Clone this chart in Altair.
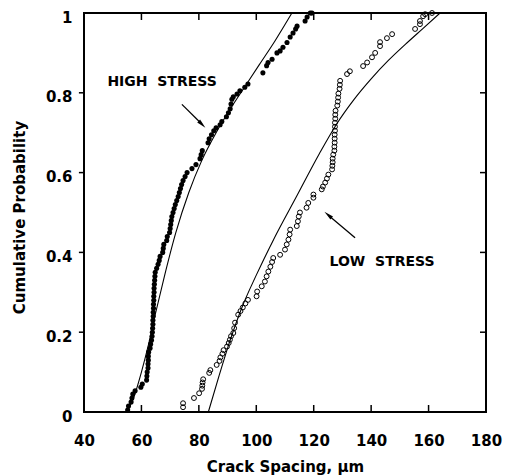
import altair as alt
import pandas as pd

# ---- data ----
high_x = [55.2, 55.5, 56.4, 56.7, 57.0, 57.8, 59.8, 60.3, 61.8, 61.9,
          62.0, 62.3, 62.3, 62.4, 62.4, 62.5, 63.0, 63.2, 63.5, 63.7,
          63.8, 63.9, 64.0, 64.0, 64.1, 64.1, 64.2, 64.2, 64.3, 64.3,
          64.4, 64.4, 64.5, 64.6, 64.7, 64.8, 65.3, 65.8, 66.2, 66.5,
          67.4, 67.6, 67.8, 68.8, 69.0, 69.8, 70.0, 70.2, 70.4, 70.6,
          71.0, 71.4, 71.8, 72.3, 72.8, 73.2, 73.6, 74.0, 74.5, 75.2,
          75.9, 77.6, 79.0, 80.4, 80.8, 81.2, 83.2, 83.6, 84.4, 85.2,
          86.0, 87.4, 88.0, 89.6, 90.3, 90.9, 91.2, 91.5, 92.0, 93.3,
          94.3, 96.0, 97.1, 102.3, 103.6, 104.1, 105.5, 107.2, 108.3, 109.3,
          110.7, 111.8, 112.8, 113.7, 114.2, 117.0, 117.7, 118.8, 119.4]
high_y = [0.005, 0.015, 0.025, 0.035, 0.045, 0.053, 0.062, 0.070, 0.080, 0.090,
          0.100, 0.110, 0.120, 0.130, 0.140, 0.150, 0.160, 0.170, 0.180, 0.190,
          0.200, 0.210, 0.220, 0.230, 0.240, 0.250, 0.260, 0.270, 0.280, 0.290,
          0.300, 0.310, 0.320, 0.330, 0.340, 0.350, 0.360, 0.370, 0.380, 0.390,
          0.400, 0.410, 0.420, 0.430, 0.440, 0.450, 0.460, 0.470, 0.480, 0.490,
          0.500, 0.510, 0.520, 0.530, 0.540, 0.550, 0.560, 0.570, 0.580, 0.590,
          0.600, 0.610, 0.620, 0.635, 0.645, 0.655, 0.675, 0.685, 0.695, 0.705,
          0.712, 0.720, 0.728, 0.740, 0.750, 0.760, 0.772, 0.784, 0.790, 0.797,
          0.805, 0.814, 0.822, 0.850, 0.868, 0.876, 0.884, 0.900, 0.905, 0.914,
          0.926, 0.940, 0.950, 0.960, 0.967, 0.980, 0.990, 1.000, 1.000]

low_x = [74.5, 74.5, 78.3, 80.1, 81.1, 81.2, 81.3, 81.5, 83.6, 84.0,
         86.2, 87.2, 87.5, 88.2, 88.6, 89.8, 90.4, 90.8, 91.2, 92.0,
         92.3, 92.6, 93.7, 94.5, 95.3, 96.2, 97.1, 100.1, 100.3, 101.9,
         103.0, 103.6, 104.2, 104.9, 105.5, 105.9, 108.3, 110.0, 110.6, 111.2,
         111.6, 111.8, 114.1, 114.5, 114.8, 115.2, 117.5, 118.1, 119.9, 119.9,
         122.8, 123.2, 124.0, 124.6, 125.1, 126.4, 126.5, 126.6, 126.6, 126.8,
         127.2, 127.2, 127.3, 127.3, 127.3, 127.4, 127.4, 127.4, 127.5, 127.5,
         127.6, 128.2, 128.4, 128.5, 128.6, 129.0, 129.1, 129.2, 131.6, 132.6,
         137.2, 138.6, 140.3, 141.4, 143.1, 143.1, 145.5, 147.3, 155.3, 157.0,
         157.0, 158.1, 158.8, 161.2]
low_y = [0.012, 0.022, 0.035, 0.047, 0.058, 0.066, 0.074, 0.082, 0.098, 0.105,
         0.118, 0.128, 0.137, 0.146, 0.155, 0.164, 0.173, 0.181, 0.190, 0.198,
         0.210, 0.224, 0.244, 0.253, 0.262, 0.272, 0.281, 0.290, 0.302, 0.315,
         0.327, 0.340, 0.352, 0.364, 0.376, 0.386, 0.394, 0.407, 0.420, 0.432,
         0.445, 0.457, 0.466, 0.478, 0.490, 0.500, 0.512, 0.524, 0.537, 0.545,
         0.558, 0.565, 0.575, 0.585, 0.595, 0.608, 0.617, 0.626, 0.635, 0.645,
         0.655, 0.665, 0.675, 0.685, 0.695, 0.705, 0.715, 0.725, 0.735, 0.745,
         0.755, 0.768, 0.778, 0.788, 0.798, 0.810, 0.820, 0.830, 0.847, 0.854,
         0.867, 0.876, 0.889, 0.900, 0.917, 0.927, 0.937, 0.947, 0.960, 0.972,
         0.980, 0.992, 0.997, 1.000]

high_fit_x = [55.0, 57.5, 60.0, 62.5, 65.0, 68.0, 72.0, 76.5, 81.0, 86.0, 91.0, 96.0, 101.0, 106.5, 112.4]
high_fit_y = [0.0, 0.04, 0.10, 0.17, 0.25, 0.34, 0.45, 0.55, 0.63, 0.70, 0.76, 0.815, 0.87, 0.93, 1.0]
low_fit_x = [83.3, 87.0, 91.0, 95.0, 100.0, 106.0, 114.0, 122.0, 128.0, 134.0, 140.0, 146.0, 152.0, 158.0, 164.0]
low_fit_y = [0.0, 0.09, 0.182, 0.262, 0.343, 0.432, 0.54, 0.648, 0.722, 0.783, 0.835, 0.881, 0.922, 0.961, 1.0]

x_labels = [40, 60, 80, 100, 120, 140, 160, 180]
y_labels = [0, 0.2, 0.4, 0.6, 0.8, 1]
x_ticks = [60, 80, 100, 120, 140, 160]
y_ticks = [0.2, 0.4, 0.6, 0.8]

note_text = ["HIGH\u00a0\u00a0STRESS", "LOW\u00a0\u00a0STRESS"]
note_x = [67.2, 143.8]
note_y = [0.827, 0.377]
arrow_tail_x = [74.1, 134.4]
arrow_tail_y = [0.771, 0.437]
arrow_head_x = [81.1, 125.0]
arrow_head_y = [0.721, 0.494]
arrow_angle = [135, 310]

# ---- styling ----
FONT = "DejaVu Sans"
XMIN, XMAX, YMIN, YMAX = 40, 180, 0, 1
xs = alt.Scale(domain=[XMIN, XMAX], nice=False, zero=False)
ys = alt.Scale(domain=[YMIN, YMAX], nice=False, zero=False)

xaxis = alt.Axis(values=x_labels, title="Crack Spacing, \u03bcm", ticks=False, domain=False,
                 grid=False, labelFont=FONT, labelFontWeight="bold", labelFontSize=15,
                 labelColor="black", labelPadding=21, labelFlush=False, labelOverlap=False,
                 titleFont=FONT, titleFontWeight="bold", titleFontSize=15, titleColor="black",
                 titleX=201, titleY=59, titleBaseline="alphabetic", titleAlign="center")
yaxis = alt.Axis(values=y_labels, title="Cumulative Probability", ticks=False, domain=False,
                 grid=False, labelFont=FONT, labelFontWeight="bold", labelFontSize=15,
                 labelColor="black", labelPadding=12, labelOffset=4, labelOverlap=False,
                 labelExpr="datum.value == 0 ? '0' : datum.value == 1 ? '1' : format(datum.value, '.1f')",
                 titleFont=FONT, titleFontWeight="bold", titleFontSize=15, titleColor="black",
                 titleX=-65, titleY=204, titleAngle=270, titleAlign="center", titleBaseline="middle")


def X(f):
    return alt.X(f, type="quantitative", scale=xs, axis=xaxis)


def Y(f):
    return alt.Y(f, type="quantitative", scale=ys, axis=yaxis)


high_df = pd.DataFrame({"x": high_x, "y": high_y})
low_df = pd.DataFrame({"x": low_x, "y": low_y})
hfit_df = pd.DataFrame({"x": high_fit_x, "y": high_fit_y})
lfit_df = pd.DataFrame({"x": low_fit_x, "y": low_fit_y})

TX = 7 / 398  # tick length in y units (about 7 px)
TXX = 6 * (XMAX - XMIN) / 402  # tick length in x units (about 6 px)
bottom_ticks = pd.DataFrame({"x": x_ticks, "y": [YMIN] * len(x_ticks), "y2": [YMIN + TX] * len(x_ticks)})
top_ticks = pd.DataFrame({"x": x_ticks, "y": [YMAX] * len(x_ticks), "y2": [YMAX - TX] * len(x_ticks)})
right_ticks = pd.DataFrame({"y": y_ticks, "x": [XMAX] * len(y_ticks), "x2": [XMAX - TXX] * len(y_ticks)})
left_ticks = pd.DataFrame({"y": y_ticks, "x": [XMIN] * len(y_ticks), "x2": [XMIN - TXX * 0.85] * len(y_ticks)})

notes_df = pd.DataFrame({"x": note_x, "y": note_y, "t": note_text})
arrows_df = pd.DataFrame({"x": arrow_tail_x, "y": arrow_tail_y, "x2": arrow_head_x,
                          "y2": arrow_head_y, "angle": arrow_angle})

fit_high = alt.Chart(hfit_df).mark_line(color="black", strokeWidth=1.1, interpolate="monotone").encode(
    x=X("x"), y=Y("y"))
fit_low = alt.Chart(lfit_df).mark_line(color="black", strokeWidth=1.1, interpolate="monotone").encode(
    x=X("x"), y=Y("y"))
pts_high = alt.Chart(high_df).mark_circle(size=26, color="black", opacity=1).encode(x=X("x"), y=Y("y"))
pts_low = alt.Chart(low_df).mark_point(shape="circle", filled=False, size=24, color="black",
                                       strokeWidth=1, opacity=1).encode(x=X("x"), y=Y("y"))

tick_b = alt.Chart(bottom_ticks).mark_rule(color="black", strokeWidth=1.5).encode(x=X("x"), y=Y("y"), y2="y2:Q")
tick_t = alt.Chart(top_ticks).mark_rule(color="black", strokeWidth=1.5).encode(x=X("x"), y=Y("y"), y2="y2:Q")
tick_r = alt.Chart(right_ticks).mark_rule(color="black", strokeWidth=1.5).encode(x=X("x"), x2="x2:Q", y=Y("y"))
tick_l = alt.Chart(left_ticks).mark_rule(color="black", strokeWidth=1.5).encode(x=X("x"), x2="x2:Q", y=Y("y"))

notes = alt.Chart(notes_df).mark_text(font=FONT, fontWeight="bold", fontSize=14, align="center",
                                      baseline="middle", color="black").encode(x=X("x"), y=Y("y"), text="t:N")
arrow_lines = alt.Chart(arrows_df).mark_rule(color="black", strokeWidth=1.3).encode(
    x=X("x"), y=Y("y"), x2="x2:Q", y2="y2:Q")
arrow_heads = alt.Chart(arrows_df).mark_point(shape="M0,-1L0.42,1L-0.42,1Z", filled=True, fill="black",
                                              strokeWidth=0, size=90, opacity=1).encode(
    x=X("x2"), y=Y("y2"), angle=alt.Angle("angle:Q", scale=None))

chart = alt.layer(
    fit_high, fit_low, pts_high, pts_low, tick_b, tick_t, tick_r, tick_l, notes, arrow_lines, arrow_heads
).properties(
    width=402, height=399,
    autosize=alt.AutoSizeParams(type="none"),
    padding={"left": 84, "top": 13, "right": 19, "bottom": 64},
    background="white",
).configure_view(stroke="black", strokeWidth=2)

chart.save("out.html", embed_options={"renderer": "svg", "actions": False})
